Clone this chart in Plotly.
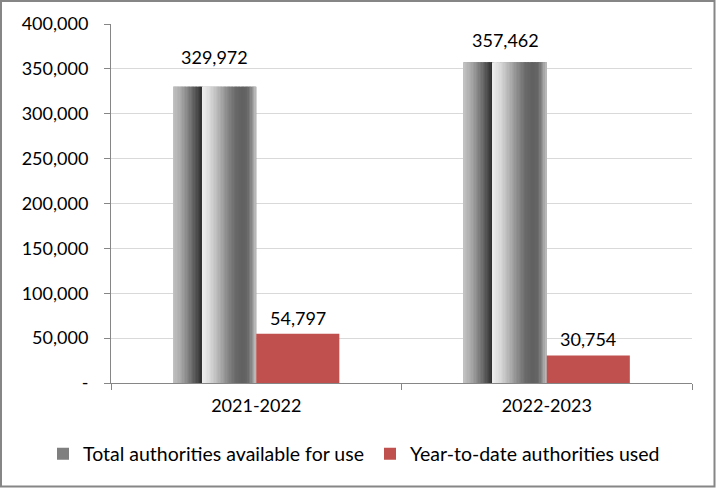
import plotly.graph_objects as go

# ---- data ----
categories = ["2021-2022", "2022-2023"]
total_available = [329972, 357462]
ytd_used = [54797, 30754]
series_names = ["Total authorities available for use", "Year-to-date authorities used"]
y_tick_values = [0, 50000, 100000, 150000, 200000, 250000, 300000, 350000, 400000]
y_tick_labels = ["-", "50,000", "100,000", "150,000", "200,000", "250,000", "300,000", "350,000", "400,000"]

# ---- style ----
FONT = "Lato"
RED = "#C0504D"
AXIS = "#868686"
GRID = "#D9D9D9"
BAR_W = 0.286
TOTAL_LABEL_SHIFT = [17, 9]   # pixel lift of the total labels (as placed in the original)
# metallic gradient profile (fraction across bar, gray level)
grad_stops = [(0.0, 195), (0.1, 168), (0.2, 122), (0.3, 72), (0.345, 48), (0.355, 238),
              (0.45, 216), (0.55, 180), (0.65, 140), (0.75, 106), (0.83, 96),
              (0.9, 102), (0.95, 140), (1.0, 192)]
N_STRIPES = 60


def gray_at(f):
    for (f0, g0), (f1, g1) in zip(grad_stops[:-1], grad_stops[1:]):
        if f0 <= f <= f1:
            t = 0 if f1 == f0 else (f - f0) / (f1 - f0)
            return int(round(g0 + t * (g1 - g0)))
    return grad_stops[-1][1]


L, R, T, B = 111, 24, 24, 105
W, H = 716, 488
pw, ph = W - L - R, H - T - B
cat_px = pw / len(categories)

fig = go.Figure()

# base total trace (carries legend entry)
fig.add_trace(go.Bar(
    x=categories, y=total_available, name=series_names[0],
    width=BAR_W, offset=-BAR_W, legend="legend",
    marker=dict(color="#7f7f7f", line=dict(width=0)),
    hoverinfo="y",
))

# gradient stripes
sw = BAR_W / N_STRIPES
for i in range(N_STRIPES):
    f = (i + 0.5) / N_STRIPES
    g = gray_at(f)
    fig.add_trace(go.Bar(
        x=categories, y=total_available, showlegend=False, hoverinfo="skip",
        width=sw * 1.4 if i < N_STRIPES - 1 else sw, offset=-BAR_W + i * sw,
        marker=dict(color=f"rgb({g},{g},{g})", line=dict(width=0)),
    ))

fig.add_trace(go.Bar(
    x=categories, y=ytd_used, name=series_names[1],
    width=BAR_W, offset=0, legend="legend2",
    marker=dict(color=RED, line=dict(width=0)),
    hoverinfo="y",
))

annotations = []
for c, v, s in zip(categories, total_available, TOTAL_LABEL_SHIFT):
    annotations.append(dict(x=c, y=v, xref="x", yref="y", text=f"{v:,}", showarrow=False,
                            xshift=-BAR_W * cat_px / 2, yshift=s, yanchor="bottom",
                            font=dict(family=FONT, size=18, color="#000")))
for c, v in zip(categories, ytd_used):
    annotations.append(dict(x=c, y=v, xref="x", yref="y", text=f"{v:,}", showarrow=False,
                            xshift=BAR_W * cat_px / 2, yshift=3, yanchor="bottom",
                            font=dict(family=FONT, size=18, color="#000")))

legend_common = dict(orientation="h", xanchor="left", y=(383 - 454) / ph, yanchor="middle",
                     font=dict(family=FONT, size=19.5, color="#000"), itemwidth=30,
                     bgcolor="rgba(0,0,0,0)")

fig.update_layout(
    width=W, height=H,
    margin=dict(l=L, r=R, t=T, b=B, autoexpand=False),
    barmode="overlay",
    paper_bgcolor="white", plot_bgcolor="white",
    font=dict(family=FONT, size=18, color="#000"),
    showlegend=True,
    legend=dict(x=(43 - L) / pw, **legend_common),
    legend2=dict(x=(370 - L) / pw, **legend_common),
    xaxis=dict(type="category", showline=True, linecolor=AXIS, linewidth=1,
               ticks="outside", ticklen=6, tickcolor=AXIS, tickson="boundaries",
               showgrid=False, ticklabelstandoff=6,
               tickfont=dict(family=FONT, size=18, color="#000")),
    yaxis=dict(range=[0, 400000], tickvals=y_tick_values, ticktext=y_tick_labels,
               showline=True, linecolor=AXIS, linewidth=1,
               ticks="outside", ticklen=6, tickcolor=AXIS,
               showgrid=True, gridcolor=GRID, gridwidth=1, zeroline=False,
               ticklabelstandoff=12,
               tickfont=dict(family=FONT, size=18, color="#000")),
    annotations=annotations,
    shapes=[dict(type="rect", xref="paper", yref="paper",
                 x0=(1 - L) / pw, x1=(W - 1.5 - L) / pw,
                 y0=(383 - (H - 1.5)) / ph, y1=(383 - 1) / ph,
                 line=dict(color=AXIS, width=2), fillcolor="rgba(0,0,0,0)", layer="above")],
)

fig.write_html("out.html", config={"displayModeBar": False},
               post_script="document.body.style.margin='0';document.body.style.overflow='hidden';")
